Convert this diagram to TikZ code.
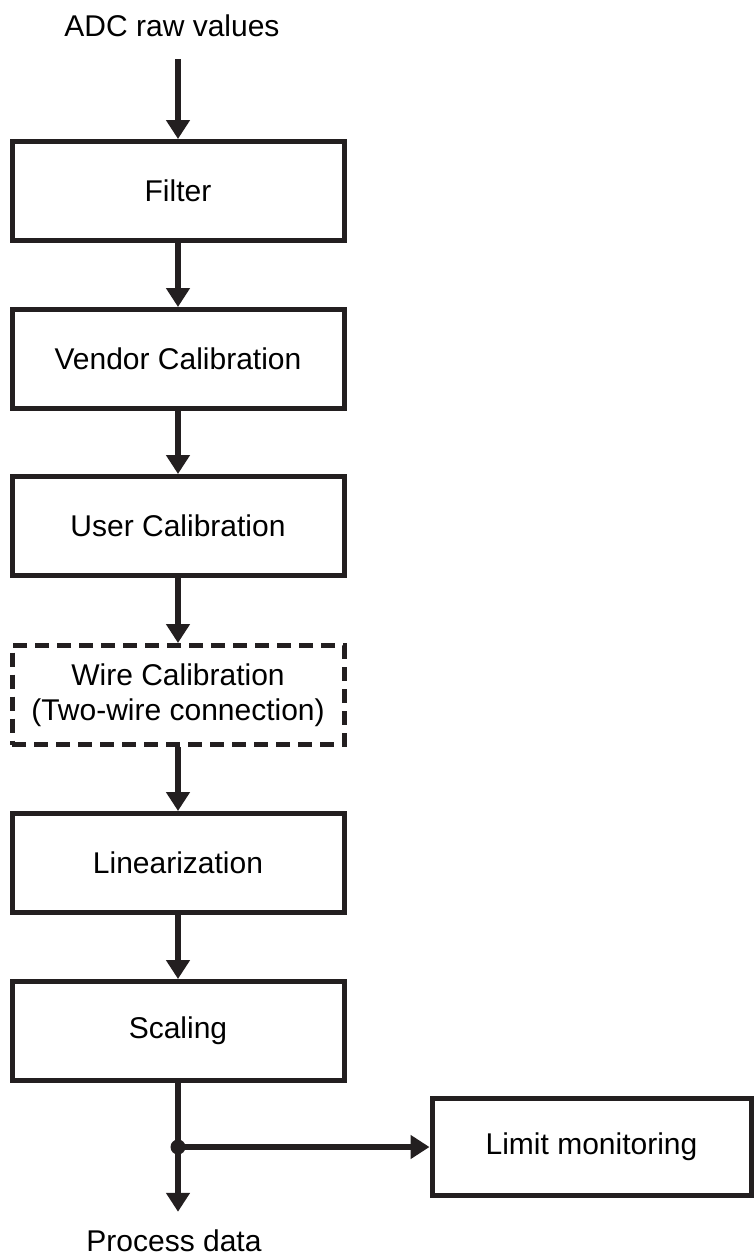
\documentclass[tikz,border=0pt]{standalone}
\usepackage{fontspec}
\setmainfont{Liberation Sans}
\usepackage{tikz}
\usetikzlibrary{positioning, arrows.meta}
\definecolor{boxline}{RGB}{35,31,32}
\tikzstyle{arrow} = [line width=5.5pt,-{Triangle[length=19pt,width=23pt]},draw=boxline,fill=boxline]
\tikzstyle{block} = [draw=boxline, line width=5pt, minimum width=332pt, minimum height=99pt, align=center]
\tikzstyle{optblock} = [block, dash pattern=on 14pt off 8pt]
\tikzstyle{io} = [inner xsep=0pt, inner ysep=22pt]

\begin{document}
\begin{tikzpicture}[x=1pt, y=-1pt, font=\fontsize{30}{34.5}\selectfont]
        \useasboundingbox (0,0) rectangle (754,1256);
        \node[io] (adc) at (172, 26) {ADC raw values};
        \node[block] (filter) at (178, 191) {Filter};
        \node[block] (vendor) at (178, 359) {Vendor Calibration};
        \node[block] (user) at (178, 526) {User Calibration};
        \node[optblock] (wire) at (178, 695) {Wire Calibration\\(Two-wire connection)};
        \node[block] (linear) at (178, 863) {Linearization};
        \node[block] (scaling) at (178, 1031) {Scaling};
        \node[block, minimum width=319pt, minimum height=97pt] (limit) at (591.5, 1146.5) {Limit monitoring};
        \node[io, inner ysep=18pt] (pd) at (174, 1241) {Process data};
        \coordinate (junc) at (178, 1147);
        % main chain
        \draw[arrow] (filter.north |- adc.south) -- (filter.north);
        \draw[arrow] (filter) -- (vendor);
        \draw[arrow] (vendor) -- (user);
        \draw[arrow] (user) -- (wire);
        \draw[arrow] (wire) -- (linear);
        \draw[arrow] (linear) -- (scaling);
        \draw[arrow] (scaling.south) -- (scaling.south |- pd.north);
        % branch to limit check
        \draw[arrow] (junc) -- (junc -| limit.west);
        \fill[boxline] (junc) circle (7.5pt);
\end{tikzpicture}
\end{document}
